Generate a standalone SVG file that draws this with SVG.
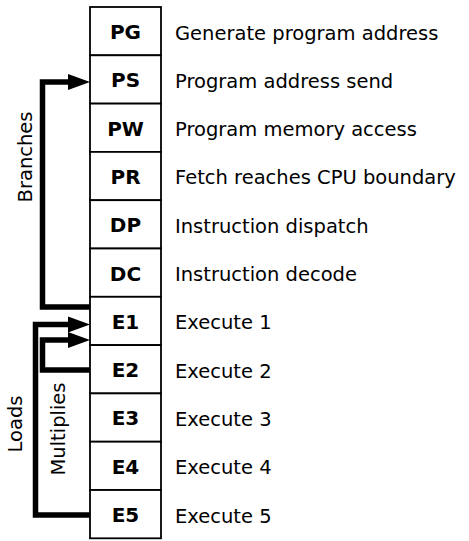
<svg xmlns="http://www.w3.org/2000/svg" width="469" height="541" viewBox="0 0 469 541">
<style>
.box{fill:#fff;stroke:#000;stroke-width:1.8}
.lbl{font-family:"DejaVu Sans",sans-serif;font-weight:bold;font-size:20px;text-anchor:middle;fill:#000}
.desc{font-family:"DejaVu Sans",sans-serif;font-size:19.5px;fill:#000}
.conn{fill:none;stroke:#000;stroke-width:5.5;stroke-linejoin:miter}
.side{font-family:"DejaVu Sans",sans-serif;font-size:19.5px;fill:#000;text-anchor:middle}
</style>
<defs>
<marker id="ah" markerUnits="userSpaceOnUse" markerWidth="22" markerHeight="16" refX="4" refY="8" orient="auto" overflow="visible">
<path d="M0,0 L22,8 L0,16 Z" fill="#000"/>
</marker>
</defs>
<rect width="469" height="541" fill="#fff"/>
<g id="PG"><rect class="box" x="90" y="7" width="71" height="48.3"/><text class="lbl" x="125.5" y="39">PG</text><text class="desc" x="175" y="39.5">Generate program address</text></g>
<g id="PS"><rect class="box" x="90" y="55.3" width="71" height="48.3"/><text class="lbl" x="125.5" y="87.3">PS</text><text class="desc" x="175" y="87.8">Program address send</text></g>
<g id="PW"><rect class="box" x="90" y="103.6" width="71" height="48.3"/><text class="lbl" x="125.5" y="135.6">PW</text><text class="desc" x="175" y="136.1">Program memory access</text></g>
<g id="PR"><rect class="box" x="90" y="151.9" width="71" height="48.3"/><text class="lbl" x="125.5" y="183.9">PR</text><text class="desc" x="175" y="184.4">Fetch reaches CPU boundary</text></g>
<g id="DP"><rect class="box" x="90" y="200.2" width="71" height="48.3"/><text class="lbl" x="125.5" y="232.2">DP</text><text class="desc" x="175" y="232.7">Instruction dispatch</text></g>
<g id="DC"><rect class="box" x="90" y="248.5" width="71" height="48.3"/><text class="lbl" x="125.5" y="280.5">DC</text><text class="desc" x="175" y="281">Instruction decode</text></g>
<g id="E1"><rect class="box" x="90" y="296.8" width="71" height="48.3"/><text class="lbl" x="125.5" y="328.8">E1</text><text class="desc" x="175" y="329.3">Execute 1</text></g>
<g id="E2"><rect class="box" x="90" y="345.1" width="71" height="48.3"/><text class="lbl" x="125.5" y="377.1">E2</text><text class="desc" x="175" y="377.6">Execute 2</text></g>
<g id="E3"><rect class="box" x="90" y="393.4" width="71" height="48.3"/><text class="lbl" x="125.5" y="425.4">E3</text><text class="desc" x="175" y="425.9">Execute 3</text></g>
<g id="E4"><rect class="box" x="90" y="441.7" width="71" height="48.3"/><text class="lbl" x="125.5" y="473.7">E4</text><text class="desc" x="175" y="474.2">Execute 4</text></g>
<g id="E5"><rect class="box" x="90" y="490" width="71" height="48.3"/><text class="lbl" x="125.5" y="522">E5</text><text class="desc" x="175" y="522.5">Execute 5</text></g>
<g id="connectors">
<path class="conn" d="M90,307 H42.5 V82 H72" marker-end="url(#ah)"/>
<path class="conn" d="M90,515 H35.5 V324.5 H72" marker-end="url(#ah)"/>
<path class="conn" d="M90,370 H42.5 V340 H72" marker-end="url(#ah)"/>
<text class="side" transform="translate(32,157) rotate(-90)">Branches</text>
<text class="side" transform="translate(22,424) rotate(-90)">Loads</text>
<text class="side" transform="translate(65,429) rotate(-90)">Multiplies</text>
</g>
</svg>
